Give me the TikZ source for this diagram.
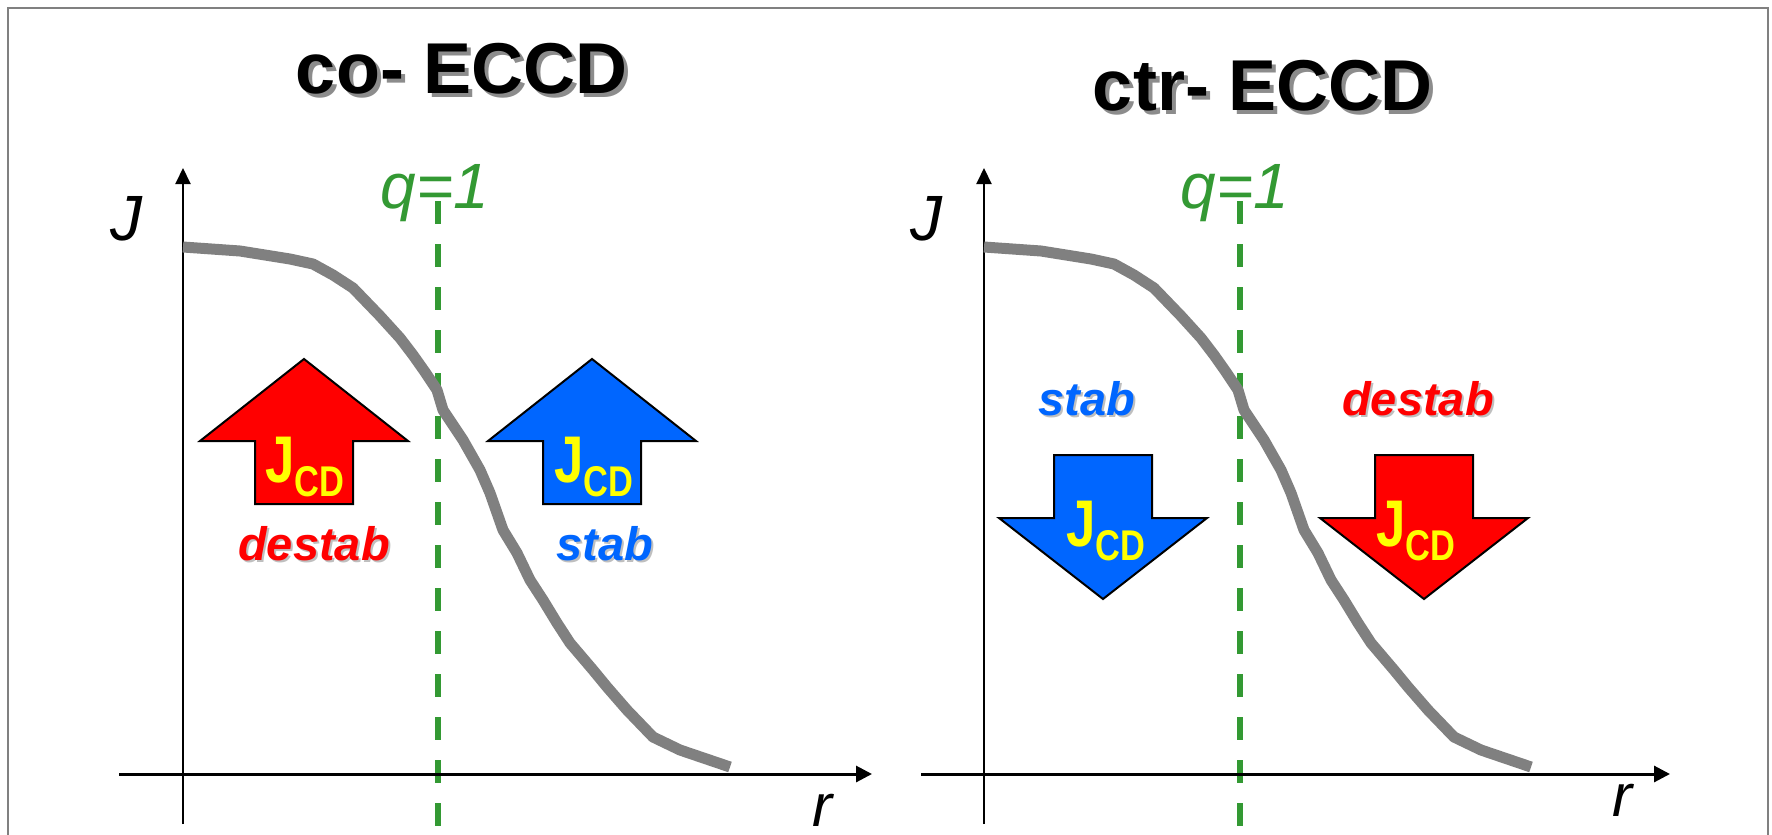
\documentclass[tikz,border=0pt]{standalone}
\usepackage{fontspec}
\setmainfont{Liberation Sans}
\newfontfamily\jfont[FakeStretch=0.8]{Liberation Sans}
\usetikzlibrary{arrows.meta}
\definecolor{qgreen}{HTML}{339933}
\definecolor{jblue}{HTML}{0066FF}
\definecolor{jred}{HTML}{FF0000}
\definecolor{jyellow}{HTML}{FFFF00}
\definecolor{cgray}{HTML}{808080}
\newcommand{\JCDtext}{{\jfont\bfseries\fontsize{66}{66}\selectfont J\raisebox{-14pt}{\fontsize{43}{43}\selectfont CD}}}
\begin{document}
\begin{tikzpicture}[x=1pt,y=-1pt,
  title/.style={font=\fontsize{72}{84}\selectfont\bfseries, anchor=base, inner sep=0pt},
  titleshadow/.style={title, text=black!45},
  lab/.style={font=\fontsize{47}{56}\selectfont\bfseries\itshape, anchor=base, inner sep=0pt},
  labshadow/.style={lab, text=black!25},
  axlab/.style={font=\fontsize{64}{70}\selectfont\itshape, anchor=base, inner sep=0pt},
  rlab/.style={font=\fontsize{60}{70}\selectfont\itshape, anchor=base, inner sep=0pt},
  jcd/.style={text=jyellow, anchor=base, inner sep=0pt},
  axisy/.style={line width=2pt, -{Triangle[length=16pt,width=15pt]}},
  axisx/.style={line width=3pt, -{Triangle[length=16pt,width=16pt]}},
  qline/.style={qgreen, line width=6pt, dash pattern=on 23pt off 20pt},
  curve/.style={cgray, line width=11pt, line join=round},
  bigarrow/.style={draw=black, line width=2pt, line join=miter},
  frame/.style={cgray, line width=2pt}
]
\useasboundingbox (0,0) rectangle (1772,835);
\fill[white] (0,0) rectangle (1772,835);

% frame
\draw[frame] (8,835) -- (8,8) -- (1768,8) -- (1768,835);

% titles
\node[titleshadow] (t1s) at (466,97) {co- ECCD};
\node[title] (t1) at (462,93) {co- ECCD};
\node[titleshadow] (t2s) at (1267,114) {ctr- ECCD};
\node[title] (t2) at (1263,110) {ctr- ECCD};

% ===== left panel =====
\coordinate (ya1) at (183,824);
\coordinate (yb1) at (183,168);
\coordinate (xa1) at (119,774);
\coordinate (xb1) at (872,774);
\coordinate (qa1) at (438,201);
\coordinate (qb1) at (438,835);
\draw[qline] (qa1) -- (qb1);
\draw[axisy] (ya1) -- (yb1);
\draw[axisx] (xa1) -- (xb1);
\node[axlab] (J1) at (126,240) {J};
\node[rlab] (r1) at (822,826) {r};
\node[axlab, text=qgreen] (q1) at (435,208) {q=1};

\draw[curve] plot coordinates {(183,247) (240,251) (290,259) (313,264) (333,275) (353,288) (380,316) (400,338) (413,355) (425,372) (437,390) (443,410) (463,440) (480,470) (490,493) (503,530) (517,553) (530,580) (543,600) (557,623) (570,643) (593,670) (607,687) (627,710) (653,737) (680,750) (730,767)};

% up arrows
\draw[bigarrow, fill=jred] (304,359) -- ++(104,82) -- ++(-55,0) -- ++(0,63) -- ++(-98,0) -- ++(0,-63) -- ++(-55,0) -- cycle;
\draw[bigarrow, fill=jblue] (592,359) -- ++(104,82) -- ++(-55,0) -- ++(0,63) -- ++(-98,0) -- ++(0,-63) -- ++(-55,0) -- cycle;
\node[jcd] (j1) at (305,482) {\JCDtext};
\node[jcd] (j2) at (594,482) {\JCDtext};

\node[labshadow] (d1s) at (316,562) {destab};
\node[lab, text=jred] (d1) at (314,560) {destab};
\node[labshadow] (s1s) at (607,562) {stab};
\node[lab, text=jblue] (s1) at (605,560) {stab};

% ===== right panel =====
\coordinate (ya2) at (984,824);
\coordinate (yb2) at (984,168);
\coordinate (xa2) at (921,774);
\coordinate (xb2) at (1670,774);
\coordinate (qa2) at (1240,201);
\coordinate (qb2) at (1240,835);
\draw[qline] (qa2) -- (qb2);
\draw[axisy] (ya2) -- (yb2);
\draw[axisx] (xa2) -- (xb2);
\node[axlab] (J2) at (926,240) {J};
\node[rlab] (r2) at (1622,816) {r};
\node[axlab, text=qgreen] (q2) at (1235,208) {q=1};

\begin{scope}[xshift=801pt]
\draw[curve] plot coordinates {(183,247) (240,251) (290,259) (313,264) (333,275) (353,288) (380,316) (400,338) (413,355) (425,372) (437,390) (443,410) (463,440) (480,470) (490,493) (503,530) (517,553) (530,580) (543,600) (557,623) (570,643) (593,670) (607,687) (627,710) (653,737) (680,750) (730,767)};
\end{scope}

% down arrows
\draw[bigarrow, fill=jblue] (1103,599) -- ++(104,-81) -- ++(-55,0) -- ++(0,-63) -- ++(-98,0) -- ++(0,63) -- ++(-55,0) -- cycle;
\draw[bigarrow, fill=jred] (1424,599) -- ++(104,-81) -- ++(-55,0) -- ++(0,-63) -- ++(-98,0) -- ++(0,63) -- ++(-55,0) -- cycle;
\node[jcd] (j3) at (1106,546) {\JCDtext};
\node[jcd] (j4) at (1416,546) {\JCDtext};

\node[labshadow] (s2s) at (1089,417) {stab};
\node[lab, text=jblue] (s2) at (1087,415) {stab};
\node[labshadow] (d2s) at (1420,417) {destab};
\node[lab, text=jred] (d2) at (1418,415) {destab};
\end{tikzpicture}
\end{document}
